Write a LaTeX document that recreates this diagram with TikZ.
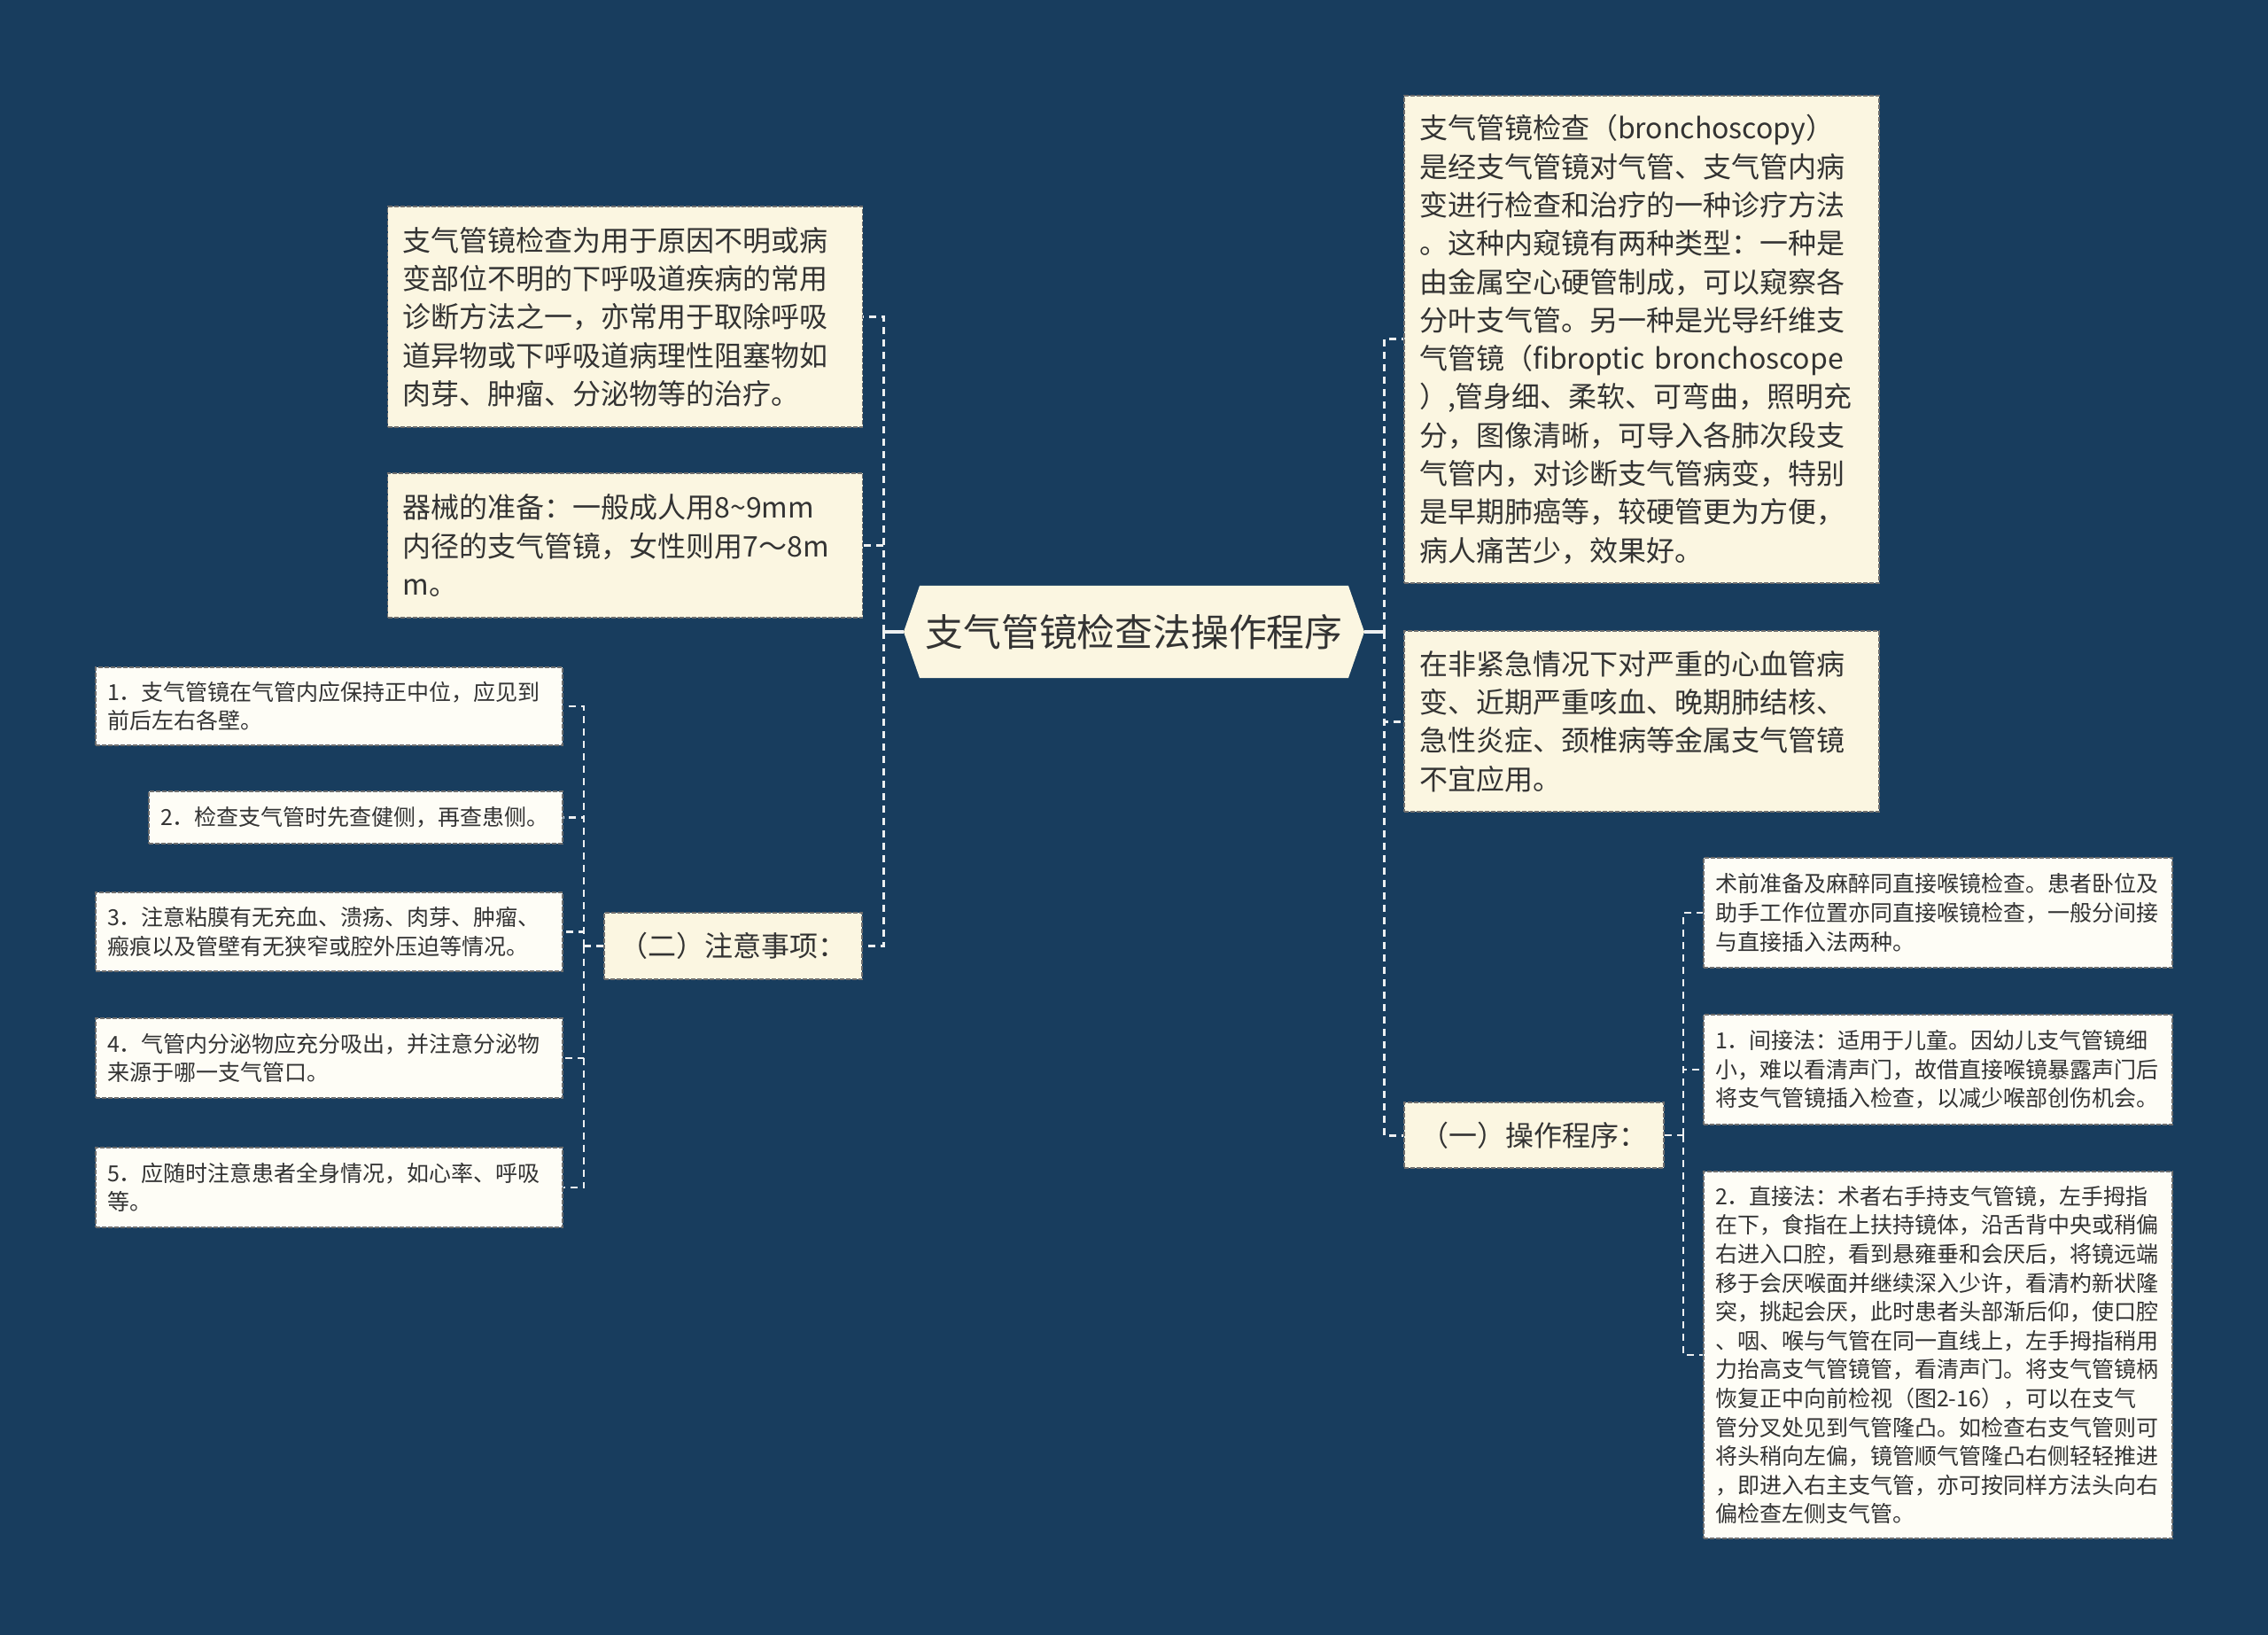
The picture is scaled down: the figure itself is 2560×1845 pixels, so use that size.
\documentclass[tikz,border=0pt]{standalone}
\usepackage{fontspec}
\setmainfont{Noto Sans CJK SC}
\definecolor{bg}{HTML}{183D5E}
\definecolor{cream}{HTML}{FBF6E1}
\definecolor{paper}{HTML}{FEFDF6}
\definecolor{ink}{HTML}{333333}
\definecolor{edge}{HTML}{6E6E6E}
\definecolor{wire}{HTML}{ECEFF1}
\begin{document}
\begin{tikzpicture}[x=0.5pt,y=-0.5pt,
  bigbox/.style={draw=edge, line width=0.9pt, dash pattern=on 2.5pt off 1pt,
    fill=cream, text=ink, font=\fontsize{16}{21.65}\selectfont, align=left,
    inner xsep=8.5pt, inner ysep=0pt, minimum width=268pt, text width=251pt},
  smallbox/.style={draw=edge, line width=0.9pt, dash pattern=on 2.5pt off 1pt,
    fill=paper, text=ink, font=\fontsize{12.5}{16.3}\selectfont, align=left,
    inner xsep=6.5pt, inner ysep=0pt},
  headbox/.style={draw=edge, line width=0.9pt, dash pattern=on 2.5pt off 1pt,
    fill=cream, text=ink, font=\fontsize{16}{20}\selectfont, align=center,
    inner sep=0pt},
  mainwire/.style={draw=wire, line width=1.5pt, dash pattern=on 4pt off 3pt},
  subwire/.style={draw=wire, line width=1.1pt, dash pattern=on 4pt off 3pt},
  stub/.style={draw=wire, line width=1.5pt}
]
\useasboundingbox (0,0) rectangle (2560,1845);
\fill[bg] (0,0) rectangle (2560,1845);

% central hexagon
\fill[cream] (1020,713) -- (1038,661) -- (1522,661) -- (1540,713) -- (1522,765) -- (1038,765) -- cycle;
\node[text=ink, font=\fontsize{21.4}{26}\selectfont, minimum width=260pt, minimum height=52pt, inner sep=0pt] (c) at (1280,713) {支气管镜检查法操作程序};

% right side
\node[bigbox, minimum height=275pt] (R1) at (1853,383) {支气管镜检查（bronchoscopy）\\是经支气管镜对气管、支气管内病\\变进行检查和治疗的一种诊疗方法\\。这种内窥镜有两种类型：一种是\\由金属空心硬管制成，可以窥察各\\分叶支气管。另一种是光导纤维支\\气管镜（fibroptic bronchoscope\\）,管身细、柔软、可弯曲，照明充\\分，图像清晰，可导入各肺次段支\\气管内，对诊断支气管病变，特别\\是早期肺癌等，较硬管更为方便，\\病人痛苦少，效果好。};
\node[bigbox, minimum height=102pt] (R2) at (1853,814) {在非紧急情况下对严重的心血管病\\变、近期严重咳血、晚期肺结核、\\急性炎症、颈椎病等金属支气管镜\\不宜应用。};
\node[headbox, minimum width=146.5pt, minimum height=37pt] (R3) at (1731.5,1281) {（一）操作程序：};

\node[smallbox, minimum width=264.5pt, text width=251.5pt, minimum height=62pt] (R3a) at (2187.5,1030) {术前准备及麻醉同直接喉镜检查。患者卧位及\\助手工作位置亦同直接喉镜检查，一般分间接\\与直接插入法两种。};
\node[smallbox, minimum width=264.5pt, text width=251.5pt, minimum height=62pt] (R3b) at (2187.5,1207) {1．间接法：适用于儿童。因幼儿支气管镜细\\小，难以看清声门，故借直接喉镜暴露声门后\\将支气管镜插入检查，以减少喉部创伤机会。};
\node[smallbox, minimum width=264.5pt, text width=251.5pt, minimum height=207pt] (R3c) at (2187.5,1529) {2．直接法：术者右手持支气管镜，左手拇指\\在下，食指在上扶持镜体，沿舌背中央或稍偏\\右进入口腔，看到悬雍垂和会厌后，将镜远端\\移于会厌喉面并继续深入少许，看清杓新状隆\\突，挑起会厌，此时患者头部渐后仰，使口腔\\、咽、喉与气管在同一直线上，左手拇指稍用\\力抬高支气管镜管，看清声门。将支气管镜柄\\恢复正中向前检视（图2-16），可以在支气\\管分叉处见到气管隆凸。如检查右支气管则可\\将头稍向左偏，镜管顺气管隆凸右侧轻轻推进\\，即进入右主支气管，亦可按同样方法头向右\\偏检查左侧支气管。};

% left side
\node[bigbox, minimum height=124.5pt] (L1) at (705.5,357.5) {支气管镜检查为用于原因不明或病\\变部位不明的下呼吸道疾病的常用\\诊断方法之一，亦常用于取除呼吸\\道异物或下呼吸道病理性阻塞物如\\肉芽、肿瘤、分泌物等的治疗。};
\node[bigbox, minimum height=81.5pt] (L2) at (705.5,615.5) {器械的准备：一般成人用8\textasciitilde 9mm\\内径的支气管镜，女性则用7～8m\\m。};
\node[headbox, minimum width=145.5pt, minimum height=37.5pt] (L3) at (827.5,1067.5) {（二）注意事项：};

\node[smallbox, minimum width=263.5pt, text width=250.5pt, minimum height=44pt] (S1) at (371.5,797) {1．支气管镜在气管内应保持正中位，应见到\\前后左右各壁。};
\node[smallbox, minimum width=233.5pt, text width=220.5pt, minimum height=29.5pt] (S2) at (401.5,922.5) {2．检查支气管时先查健侧，再查患侧。};
\node[smallbox, minimum width=263.5pt, text width=250.5pt, minimum height=44.5pt] (S3) at (371.5,1051.5) {3．注意粘膜有无充血、溃疡、肉芽、肿瘤、\\瘢痕以及管壁有无狭窄或腔外压迫等情况。};
\node[smallbox, minimum width=263.5pt, text width=250.5pt, minimum height=45pt] (S4) at (371.5,1194) {4．气管内分泌物应充分吸出，并注意分泌物\\来源于哪一支气管口。};
\node[smallbox, minimum width=263.5pt, text width=250.5pt, minimum height=45pt] (S5) at (371.5,1340) {5．应随时注意患者全身情况，如心率、呼吸\\等。};

% junctions
\coordinate (rj) at (1562,713);
\coordinate (lj) at (997,713);
\coordinate (rsj) at (1900,1281);
\coordinate (lsj) at (659,1067.5);

% connectors
\draw[stub] (c.east) -- (rj);
\draw[mainwire] (rj) |- (R1.west);
\draw[mainwire] (rj) |- (R2.west);
\draw[mainwire] (rj) |- (R3.west);
\draw[stub] (c.west) -- (lj);
\draw[mainwire] (lj) |- (L1.east);
\draw[mainwire] (lj) |- (L2.east);
\draw[mainwire] (lj) |- (L3.east);

\draw[subwire] (R3.east) -- (rsj);
\draw[subwire] (rsj) |- (R3a.west);
\draw[subwire] (rsj) |- (R3b.west);
\draw[subwire] (rsj) |- (R3c.west);

\draw[subwire] (L3.west) -- (lsj);
\draw[subwire] (lsj) |- (S1.east);
\draw[subwire] (lsj) |- (S2.east);
\draw[subwire] (lsj) |- (S3.east);
\draw[subwire] (lsj) |- (S4.east);
\draw[subwire] (lsj) |- (S5.east);
\end{tikzpicture}
\end{document}
